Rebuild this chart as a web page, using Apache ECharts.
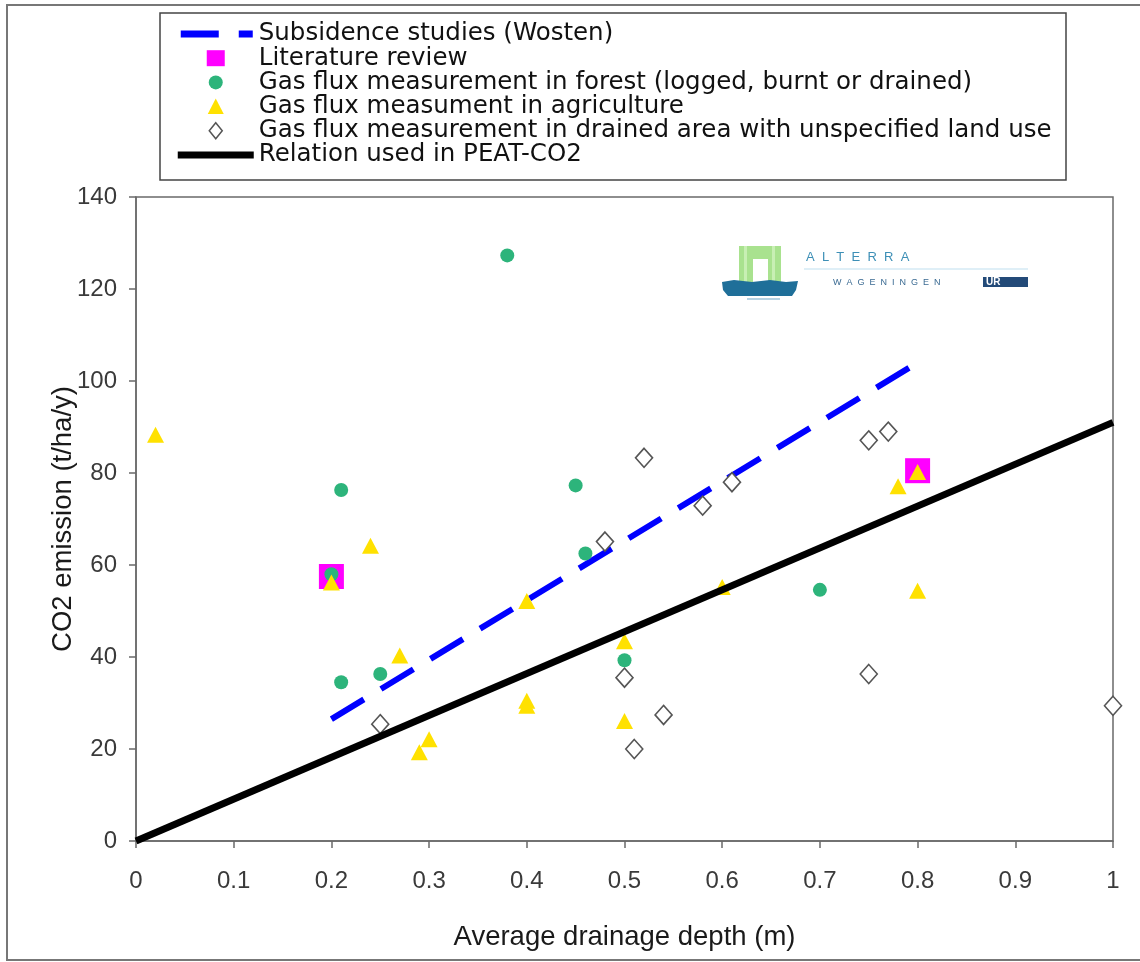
<!DOCTYPE html>
<html>
<head>
<meta charset="utf-8">
<script src="https://cdn.jsdelivr.net/npm/echarts@6/dist/echarts.min.js"></script>
<style>
html,body{margin:0;padding:0;background:#fff;}
#chart{width:1140px;height:962px;}
</style>
</head>
<body>
<div id="chart"></div>
<script>
// ---- data ----
const seriesNames = [
  'Subsidence studies (Wosten)',
  'Literature review',
  'Gas flux measurement in forest (logged, burnt or drained)',
  'Gas flux measument in agriculture',
  'Gas flux measurement in drained area with unspecified land use',
  'Relation used in PEAT-CO2'
];
const subsidenceLine = [[0.2, 26.5], [0.8, 104]];
const literatureReview = [[0.2, 57.5], [0.8, 80.5]];
const forestFlux = [[0.38, 127.3], [0.21, 76.3], [0.2, 58], [0.25, 36.3], [0.21, 34.5], [0.45, 77.3], [0.46, 62.5], [0.5, 39.3], [0.7, 54.6]];
const agricultureFlux = [[0.02, 88.3], [0.2, 56.2], [0.24, 64.2], [0.27, 40.3], [0.29, 19.3], [0.3, 22.1], [0.4, 52.2], [0.4, 30.5], [0.4, 29.4], [0.5, 43.4], [0.5, 26.1], [0.6, 55.2], [0.78, 77.1], [0.8, 80.2], [0.8, 54.4]];
const unspecifiedFlux = [[0.25, 25.4], [0.48, 65.1], [0.5, 35.5], [0.51, 20], [0.52, 83.3], [0.54, 27.4], [0.58, 72.9], [0.61, 78], [0.75, 87.1], [0.75, 36.3], [0.77, 89], [1.0, 29.4]];
const peatCo2Line = [[0, 0], [1, 91]];
const xTicks = {min: 0, max: 1, interval: 0.1};
const yTicks = {min: 0, max: 140, interval: 20};

// legend icon shapes, drawn in a 78 x 16 box (corner moves fix the box)
const box = 'M0 0 M78 16 ';
const legendIcons = [
  'path://' + box + 'M5 4.5 L43 4.5 L43 11.5 L5 11.5 Z M63 4.5 L77 4.5 L77 11.5 L63 11.5 Z',
  'path://' + box + 'M31 -0.5 L49 -0.5 L49 16.5 L31 16.5 Z',
  'path://' + box + 'M33 8 A7 7 0 1 0 47 8 A7 7 0 1 0 33 8 Z',
  'path://' + box + 'M40 0 L48 15.5 L32 15.5 Z',
  'path://' + box + 'M40 -0.5 L46.5 8 L40 16.5 L33.5 8 Z',
  'path://' + box + 'M2 4.5 L78 4.5 L78 11.5 L2 11.5 Z'
];
const legendItemStyles = [
  {color: '#0000ff'}, {color: '#ff00ff'}, {color: '#2db47b'}, {color: '#ffe100'},
  {color: '#ffffff', borderColor: '#555555', borderWidth: 1.5}, {color: '#000000'}
];

const chart = echarts.init(document.getElementById('chart'), null, {renderer: 'canvas'});
const axisGrey = '#6a6a6a';
const option = {
  animation: false,
  backgroundColor: '#fff',
  grid: {left: 136, right: 27, top: 197, bottom: 121, show: true, borderColor: axisGrey, borderWidth: 1.5, backgroundColor: 'transparent'},
  legend: {
    orient: 'vertical', left: 175, top: 21.5, padding: 0, itemGap: -0.8,
    itemWidth: 78, itemHeight: 16, symbolKeepAspect: false,
    data: seriesNames.map((n, i) => ({name: n, icon: legendIcons[i], itemStyle: legendItemStyles[i]})),
    textStyle: {fontFamily: 'DejaVu Sans', fontSize: 24.5, color: '#111', lineHeight: 24, padding: [0, 0, 0, 0]},
    selectedMode: false
  },
  xAxis: {
    type: 'value', min: xTicks.min, max: xTicks.max, interval: xTicks.interval,
    name: 'Average drainage depth (m)', nameLocation: 'middle', nameGap: 82, nameMoveOverlap: false,
    nameTextStyle: {fontFamily: 'Liberation Sans', fontSize: 27.5, color: '#1a1a1a'},
    axisLine: {lineStyle: {color: axisGrey, width: 1.5}},
    axisTick: {show: true, length: 7, lineStyle: {color: axisGrey, width: 1.5}},
    axisLabel: {fontFamily: 'Liberation Sans', fontSize: 24, color: '#3a3a3a', margin: 28},
    splitLine: {show: false}
  },
  yAxis: {
    type: 'value', min: yTicks.min, max: yTicks.max, interval: yTicks.interval,
    name: 'CO2 emission (t/ha/y)', nameLocation: 'middle', nameGap: 59, nameRotate: 90, nameMoveOverlap: false,
    nameTextStyle: {fontFamily: 'Liberation Sans', fontSize: 27.5, color: '#1a1a1a'},
    axisLine: {lineStyle: {color: axisGrey, width: 1.5}},
    axisTick: {show: true, length: 7, lineStyle: {color: axisGrey, width: 1.5}},
    axisLabel: {fontFamily: 'Liberation Sans', fontSize: 24, color: '#3a3a3a', margin: 19},
    splitLine: {show: false}
  },
  series: [
    {name: seriesNames[0], type: 'line', data: subsidenceLine, symbol: 'none', showSymbol: false,
     lineStyle: {color: '#0000ff', width: 6, type: [38, 20], cap: 'butt'}, itemStyle: {color: '#0000ff'}, z: 2},
    {name: seriesNames[1], type: 'scatter', data: literatureReview, symbol: 'rect', symbolSize: 25,
     itemStyle: {color: '#ff00ff', opacity: 1}, z: 3},
    {name: seriesNames[2], type: 'scatter', data: forestFlux, symbol: 'circle', symbolSize: 14,
     itemStyle: {color: '#2db47b', opacity: 1}, z: 4},
    {name: seriesNames[3], type: 'scatter', data: agricultureFlux, symbol: 'triangle', symbolSize: [17, 16],
     itemStyle: {color: '#ffe100', opacity: 1}, z: 5},
    {name: seriesNames[4], type: 'scatter', data: unspecifiedFlux, symbol: 'diamond', symbolSize: [17, 19],
     itemStyle: {color: '#ffffff', borderColor: '#555', borderWidth: 1.6, opacity: 1}, z: 6},
    {name: seriesNames[5], type: 'line', data: peatCo2Line, symbol: 'none', showSymbol: false,
     lineStyle: {color: '#000000', width: 7, cap: 'butt'}, itemStyle: {color: '#000'}, z: 7}
  ],
  graphic: [
    {type: 'rect', shape: {x: 7, y: 5, width: 1160, height: 955}, style: {fill: 'none', stroke: '#777', lineWidth: 2}, silent: true, z: 0},
    {type: 'rect', shape: {x: 160, y: 13, width: 906, height: 167}, style: {fill: 'none', stroke: '#444', lineWidth: 1.5}, silent: true, z: 10},
    {type: 'group', left: 722, top: 246, silent: true, z: 1, children: [
      {type: 'rect', shape: {x: 17, y: 0, width: 42, height: 38}, style: {fill: '#a9e28f'}},
      {type: 'rect', shape: {x: 22, y: 0, width: 3, height: 38}, style: {fill: '#c8efb4'}},
      {type: 'rect', shape: {x: 50, y: 0, width: 3, height: 38}, style: {fill: '#c8efb4'}},
      {type: 'rect', shape: {x: 31, y: 13, width: 15, height: 25}, style: {fill: '#ffffff'}},
      {type: 'polygon', shape: {points: [[0, 36], [12, 34], [30, 36], [48, 34], [64, 36], [76, 35], [74, 44], [70, 50], [6, 50], [1, 44]]}, style: {fill: '#1f6f99'}},
      {type: 'line', shape: {x1: 25, y1: 53, x2: 58, y2: 53}, style: {stroke: '#9cc3da', lineWidth: 1.5}},
      {type: 'text', style: {x: 84, y: 5, text: 'A  L  T  E  R  R  A', font: '13px "Liberation Sans"', fill: '#3d8fb6'}},
      {type: 'line', shape: {x1: 82, y1: 23, x2: 306, y2: 23}, style: {stroke: '#bfe0f0', lineWidth: 1.2}},
      {type: 'text', style: {x: 111, y: 32, text: 'W  A  G  E  N  I  N  G  E  N', font: '9px "Liberation Sans"', fill: '#3a6a92'}},
      {type: 'rect', shape: {x: 261, y: 31, width: 45, height: 10}, style: {fill: '#234a78'}},
      {type: 'text', style: {x: 264, y: 31, text: 'UR', font: 'bold 10px "Liberation Sans"', fill: '#ffffff'}}
    ]}
  ]
};
chart.setOption(option);
</script>
</body>
</html>
